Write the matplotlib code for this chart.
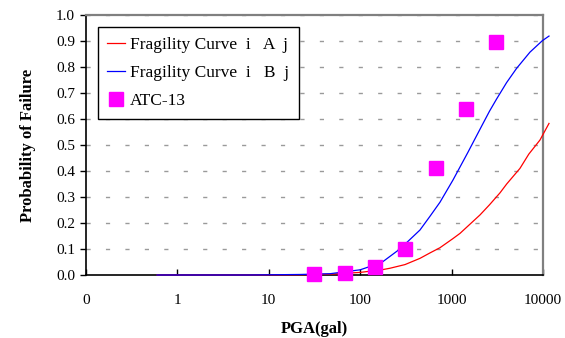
import matplotlib.pyplot as plt
from matplotlib.ticker import FixedLocator, NullLocator

plt.rcParams['font.family'] = ['Liberation Serif', 'DejaVu Serif']
plt.rcParams['lines.scale_dashes'] = False

# curve A (red)
pga_a = [0.6, 6, 22, 47, 100, 172, 212, 309, 451, 581, 747, 1035, 1236, 2046, 2600,
         3388, 4008, 5600, 7000, 9270, 11640]
pf_a = [0.0, 0.0, 0.001, 0.003, 0.010, 0.020, 0.026, 0.040, 0.064, 0.085, 0.105, 0.140,
        0.160, 0.231, 0.270, 0.316, 0.350, 0.410, 0.465, 0.519, 0.583]

# curve B (blue)
pga_b = [0.6, 6, 22, 47, 100, 172, 272, 451, 581, 747, 1035, 1500, 2150, 2600, 3110,
         4000, 5150, 7200, 9830, 11640]
pf_b = [0.0, 0.0, 0.002, 0.005, 0.020, 0.048, 0.100, 0.173, 0.226, 0.280, 0.365, 0.470,
        0.575, 0.630, 0.677, 0.740, 0.795, 0.857, 0.901, 0.919]

# ATC-13 points
pga_atc = [31, 68, 145, 311, 675, 1440, 3080]
pf_atc = [0.004, 0.007, 0.032, 0.099, 0.41, 0.638, 0.895]

xticks = [0.1, 1, 10, 100, 1000, 10000]
xtick_labels = ['0', '1', '10', '100', '1000', '10000']

fig = plt.figure(figsize=(5.65, 3.38), dpi=100)
ax = fig.add_axes([0.1522, 0.1864, 0.8088, 0.7692])

ax.set_xscale('log')
ax.set_xlim(0.1, 10000)
ax.set_ylim(0, 1.0)

# grid
for yv in [i / 10 for i in range(1, 11)]:
    ax.axhline(yv, color='#9a9a9a', lw=1.0, ls=(0, (3, 11)), zorder=1)

ax.plot(pga_a, pf_a, color='red', lw=0.9, clip_on=False, zorder=3,
        label='Fragility Curve  i   A  j')
ax.plot(pga_b, pf_b, color='blue', lw=0.9, clip_on=False, zorder=4,
        label='Fragility Curve  i   B  j')
ax.plot(pga_atc, pf_atc, ls='none', marker='s', ms=10, color='magenta',
        mec='magenta', clip_on=False, zorder=5, label='ATC-13')

ax.xaxis.set_major_locator(FixedLocator(xticks))
ax.xaxis.set_minor_locator(NullLocator())
ax.set_xticklabels(xtick_labels)
ax.set_yticks([i / 10 for i in range(11)])
ax.set_yticklabels([f'{i / 10:.1f}' for i in range(11)])

ax.tick_params(axis='x', direction='in', length=4, width=1, pad=14, labelsize=11)
ax.tick_params(axis='y', direction='out', length=4, width=1, pad=4, labelsize=11)

for s in ['left', 'bottom']:
    ax.spines[s].set_color('black')
    ax.spines[s].set_linewidth(1.2)
for s in ['top', 'right']:
    ax.spines[s].set_color('#808080')
    ax.spines[s].set_linewidth(1.6)

ax.set_xlabel('PGA(gal)', fontsize=12, fontweight='bold', labelpad=10)
ax.set_ylabel('Probability of Failure', fontsize=12, fontweight='bold', labelpad=14)

leg = ax.legend(loc='upper left', bbox_to_anchor=(0.026, 0.954), borderaxespad=0,
                fontsize=12.5, frameon=True, fancybox=False, edgecolor='black',
                handlelength=1.0, handletextpad=0.3, labelspacing=0.7,
                borderpad=0.55, framealpha=1)
leg.get_frame().set_linewidth(1.0)

fig.savefig('out.png', dpi=100)
